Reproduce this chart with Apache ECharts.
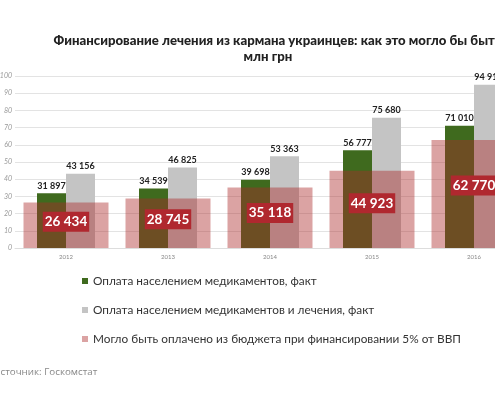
<!DOCTYPE html>
<html>
<head>
<meta charset="utf-8">
<script src="https://cdn.jsdelivr.net/npm/echarts@6/dist/echarts.min.js"></script>
<style>
html,body{margin:0;padding:0;background:#fff;overflow:hidden;width:495px;height:398px;}
#chart{position:absolute;left:-20px;top:0;width:580px;height:398px;}
</style>
</head>
<body>
<div id="chart"></div>
<script>
const years = ['2012', '2013', '2014', '2015', '2016'];
const medsPaid = [31897, 34539, 39698, 56777, 71010];
const medsTreatPaid = [43156, 46825, 53363, 75680, 94911];
const budgetPossible = [26434, 28745, 35118, 44923, 62770];
const seriesNames = [
  'Оплата населением медикаментов, факт',
  'Оплата населением медикаментов и лечения, факт',
  'Могло быть оплачено из бюджета при финансировании 5% от ВВП'
];
const titleLine1 = 'Финансирование лечения из кармана украинцев: как это могло бы быть,';
const titleLine2 = 'млн грн';
const sourceText = 'Источник: Госкомстат';

const fmt = v => String(v).replace(/\B(?=(\d{3})+(?!\d))/g, ' ');
const FONT = 'Lato';

const chart = echarts.init(document.getElementById('chart'), null, {renderer: 'canvas'});
chart.setOption({
  backgroundColor: '#fff',
  animation: false,
  textStyle: {fontFamily: FONT},
  title: [
    {text: titleLine1, left: 299, top: 34, padding: 0, textAlign: 'center',
     textStyle: {fontFamily: FONT, fontSize: 13.2, fontWeight: 900, color: '#222'}},
    {text: titleLine2, left: 288, top: 50, padding: 0, textAlign: 'center',
     textStyle: {fontFamily: FONT, fontSize: 13.2, fontWeight: 900, color: '#222'}},
    {text: sourceText, left: 13, top: 367, padding: 0,
     textStyle: {fontFamily: 'Open Sans', fontSize: 9.8, fontWeight: 'normal', color: '#888'}}
  ],
  legend: {
    orient: 'vertical', left: 102, top: 274, padding: 0,
    itemWidth: 6, itemHeight: 6, itemGap: 15, icon: 'rect',
    data: seriesNames,
    textStyle: {fontFamily: FONT, fontSize: 11.8, color: '#333', lineHeight: 14}
  },
  grid: {left: 35, right: 35, top: 76, bottom: 150},
  xAxis: [
    {type: 'category', data: years,
     axisLine: {show: true, lineStyle: {color: '#ddd'}},
     axisTick: {show: false},
     axisLabel: {fontSize: 6, color: '#888', margin: 6}},
    {type: 'category', data: years, show: false}
  ],
  yAxis: {
    type: 'value', min: 0, max: 100000, interval: 10000,
    axisLine: {show: false}, axisTick: {show: false},
    splitLine: {lineStyle: {color: '#e3e3e3', width: 1}},
    axisLabel: {fontSize: 7, color: '#999', fontStyle: 'italic', margin: 3,
      formatter: v => String(v / 1000)}
  },
  series: [
    {name: seriesNames[0], type: 'bar', xAxisIndex: 0, data: medsPaid,
     barWidth: 29, barGap: '0%', z: 2,
     itemStyle: {color: '#3f6a1e'},
     label: {show: true, position: 'top', distance: 3, fontSize: 9, fontWeight: 'bold',
       color: '#222', fontFamily: FONT, formatter: p => fmt(p.value)}},
    {name: seriesNames[1], type: 'bar', xAxisIndex: 0, data: medsTreatPaid,
     barWidth: 29, barGap: '0%', z: 2,
     itemStyle: {color: '#c4c4c4'},
     label: {show: true, position: 'top', distance: 3, fontSize: 9, fontWeight: 'bold',
       color: '#222', fontFamily: FONT, formatter: p => fmt(p.value)}},
    {name: seriesNames[2], type: 'bar', xAxisIndex: 1, data: budgetPossible,
     barWidth: 85, z: 3,
     itemStyle: {color: 'rgba(172,42,42,0.43)'},
     label: {show: true, position: ['50%', '42%'], align: 'center', verticalAlign: 'middle',
       backgroundColor: '#b0282f', color: '#fff', fontSize: 13.5, fontWeight: 'bold',
       fontFamily: FONT, padding: [3, 2], formatter: p => fmt(p.value)}}
  ]
});
</script>
</body>
</html>
